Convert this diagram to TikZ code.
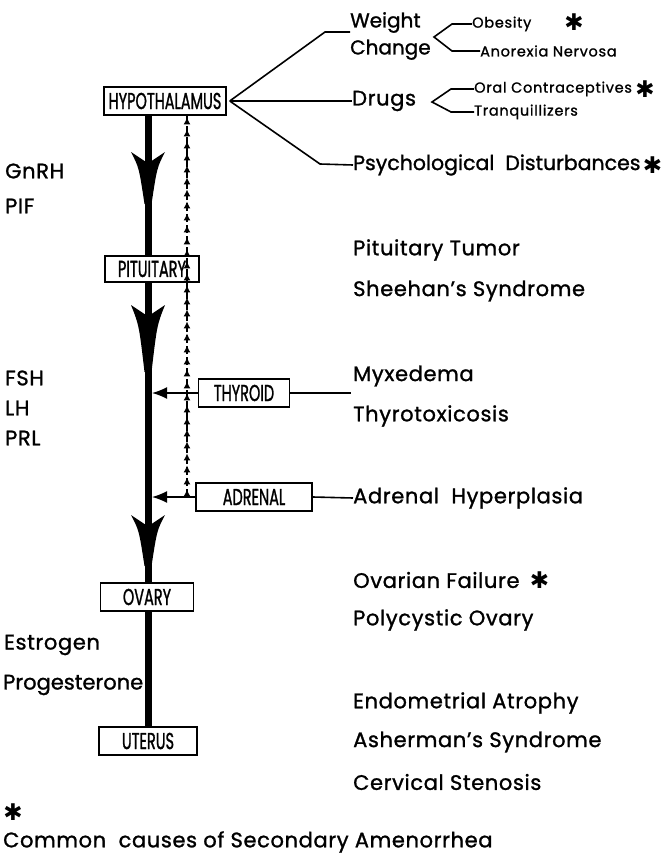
\documentclass[tikz,border=0pt]{standalone}
\usepackage{fontspec}
\setmainfont{Poppins}[FakeBold=1.2, LetterSpace=3]
\newfontfamily\tightfam{Poppins}[FakeBold=1.2, LetterSpace=0]
\newfontfamily\smlfam{Poppins}[FakeBold=1.2, LetterSpace=5]
\newfontfamily\orgfam{Poppins}[FakeBold=1.6]
\newfontfamily\symfont{DejaVu Sans}
\usetikzlibrary{arrows.meta,decorations.markings}
\newcommand\lblfont{\fontsize{21}{25}\selectfont}
\newcommand\tightfont{\tightfam\fontsize{21}{25}\selectfont}
\newcommand\smlfont{\smlfam\fontsize{14.5}{16}\selectfont}
\newcommand\orgfont{\orgfam\fontsize{23}{25}\selectfont}
\newcommand\astfont{\symfont\fontsize{23}{23}\selectfont}
\newcommand\orgtext[1]{\scalebox{0.63}[1]{#1}}
\begin{document}
\begin{tikzpicture}[x=1pt,y=-1pt,
  organ/.style={draw, line width=1.5pt, inner sep=0pt, font=\orgfont, minimum height=28pt},
  lbl/.style={anchor=west, inner sep=0pt, font=\lblfont},
  sml/.style={anchor=west, inner sep=0pt, font=\smlfont},
  ast/.style={inner sep=0pt, font=\astfont},
  conn/.style={line width=1.6pt},
  spine/.style={line width=7pt},
  feedback/.style={line width=1.5pt, dash pattern=on 8pt off 3pt,
    postaction={decorate, decoration={markings,
      mark=between positions 0.02 and 1 step 12pt with {\arrow{Latex[length=7pt,width=7pt]}}}}},
  inarrow/.style={line width=1.5pt, -{Latex[length=15pt,width=12pt]}}
]
\useasboundingbox (0,0) rectangle (671,856);

% organ boxes
\node[organ, minimum width=122pt] (hyp) at (165,101) {\orgtext{HYPOTHALAMUS}};
\node[organ, minimum width=94pt, minimum height=26pt] (pit) at (152,269) {\orgtext{PITUITARY}};
\node[organ, minimum width=91pt] (thy) at (244,393) {\orgtext{THYROID}};
\node[organ, minimum width=116pt] (adr) at (254,497) {\orgtext{ADRENAL}};
\node[organ, minimum width=93pt] (ova) at (147,597) {\orgtext{OVARY}};
\node[organ, minimum width=98pt] (ute) at (148,741) {\orgtext{UTERUS}};

% spine coordinates
\coordinate (sx) at (148,0);
\coordinate (sr) at (152,0);
\coordinate (fx) at (187,0);

% thick axis
\draw[spine] (hyp.south -| sx) -- (pit.north -| sx);
\draw[spine] (pit.south -| sx) -- (ova.north -| sx);
\draw[spine] (ova.south -| sx) -- (ute.north -| sx);

% big barbed arrowheads
\foreach \t/\b in {152/204, 305/372, 515/566}{
  \fill (131,\t) -- (144.5,{\t+9}) -- (151.5,{\t+9}) -- (165,\t)
    .. controls (157,{\t+0.3*(\b-\t)}) .. (151.5,\b) -- (144.5,\b)
    .. controls (139,{\t+0.3*(\b-\t)}) .. cycle;
}

% feedback dashed line (upward arrows)
\coordinate (fbot) at (187,497);
\draw[feedback] (fbot) -- (hyp.south -| fx);

% thyroid and adrenal inputs
\draw[inarrow] (thy.west) -- (thy.west -| sr);
\draw[inarrow] (adr.west) -- (adr.west -| sr);

% left labels
\node[lbl] (gnrh) at (5,171) {GnRH};
\node[lbl] (pif) at (5,206) {PIF};
\node[lbl] (fsh) at (5,378) {FSH};
\node[lbl] (lh) at (5,408) {LH};
\node[lbl] (prl) at (5,438) {PRL};
\node[lbl] (estr) at (4,645) {Estrogen};
\node[lbl, font=\tightfont] (prog) at (3,685) {Progesterone};

% hypothalamic influences
\coordinate (apex) at ([xshift=3pt]hyp.east);
\node[lbl, align=left, font=\tightfam\fontsize{20}{27}\selectfont] (wc) at (350,36) {Weight\\Change};
\node[lbl] (drugs) at (352,101) {Drugs};
\node[lbl, font=\tightfam\fontsize{20.5}{24}\selectfont] (psych) at (353,165) {Psychological\ \ Disturbances};
\node[ast, anchor=west] (a3) at ([xshift=2pt]psych.east) {✱};
\coordinate (wk) at (325,32);
\coordinate (pk) at (320,164);
\draw[conn] (apex) -- (wk) -- (wk -| wc.west);
\draw[conn] (apex) -- (drugs.west);
\draw[conn] (apex) -- (pk) -- (psych.west);

% weight change sub-items
\node[sml] (obes) at (472,24) {Obesity};
\node[sml] (anor) at (480,51) {Anorexia Nervosa};
\node[ast] (a1) at (574,22) {✱};
\coordinate (wb) at (434,37);
\draw[conn] (obes.west) -- (452,24) -- (wb) -- (452,51) -- (anor.west);

% drugs sub-items
\node[sml] (oral) at (474,89) {Oral Contraceptives};
\node[sml] (tranq) at (474,112) {Tranquillizers};
\node[ast, anchor=west] (a2) at ([xshift=3pt]oral.east) {✱};
\coordinate (db) at (432,102);
\draw[conn] (oral.west) -- (451,89) -- (db) -- (451,112) -- (tranq.west);

% right column
\node[lbl] (ptum) at (353,250) {Pituitary Tumor};
\node[lbl] (sheeh) at (353,291) {Sheehan's Syndrome};
\node[lbl] (myx) at (353,376) {Myxedema};
\node[lbl] (thyt) at (353,416) {Thyrotoxicosis};
\coordinate (thyend) at (351,393);
\draw[conn] (thy.east) -- (thyend);
\node[lbl] (adrh) at (353,498) {Adrenal\ \ Hyperplasia};
\draw[conn] (adr.east) -- (adrh.west);
\node[lbl] (ovf) at (353,580) {Ovarian Failure};
\node[ast, anchor=west] (a4) at ([xshift=10pt]ovf.east) {✱};
\node[lbl] (pco) at (353,620) {Polycystic Ovary};
\node[lbl] (endo) at (353,703) {Endometrial Atrophy};
\node[lbl] (asher) at (353,742) {Asherman's Syndrome};
\node[lbl] (cerv) at (353,782) {Cervical Stenosis};

% footnote
\node[ast] (a5) at (13,812) {✱};
\node[lbl] (foot) at (3,842) {Common\ \ causes of Secondary Amenorrhea};
\end{tikzpicture}
\end{document}
